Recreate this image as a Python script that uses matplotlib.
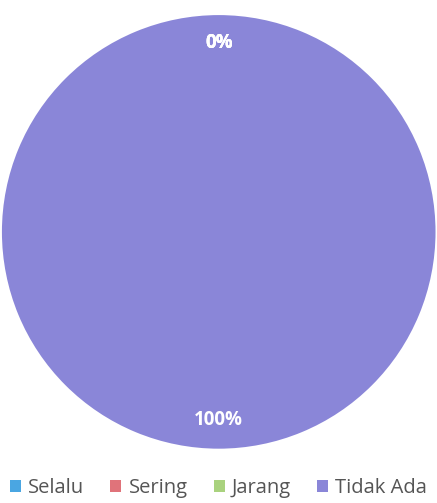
import matplotlib.pyplot as plt
from matplotlib.patches import Patch

plt.rcParams['font.family'] = ['Open Sans', 'DejaVu Sans']

categories = ['Selalu', 'Sering', 'Jarang', 'Tidak Ada']
values = [0, 0, 0, 100]
colors = ['#4aa6e2', '#e0737a', '#a9d27e', '#8a86d8']

fig = plt.figure(figsize=(4.37, 5.03), dpi=100)
ax = fig.add_axes([0.003, 0.108, 0.995, 0.862])

wedges, texts, autotexts = ax.pie(values, colors=colors, startangle=90,
                                  counterclock=False, autopct='%1.0f%%',
                                  pctdistance=0.87,
                                  textprops={'color': 'white', 'fontsize': 13.5,
                                             'fontweight': 'bold'})
# three 0% labels stack on top of each other, like the original
ax.set_aspect('equal')
ax.set_xlim(-1.0, 1.0)
ax.set_ylim(-1.0, 1.0)

handles = [Patch(facecolor=c, edgecolor='none') for c in colors]
fig.legend(handles, categories, loc='center', bbox_to_anchor=(0.5, 0.03),
           ncol=4, frameon=False, fontsize=14.5, handlelength=0.55,
           handleheight=0.55, handletextpad=0.35, columnspacing=1.3,
           labelcolor='#555555')

fig.savefig('out.png', dpi=100)
